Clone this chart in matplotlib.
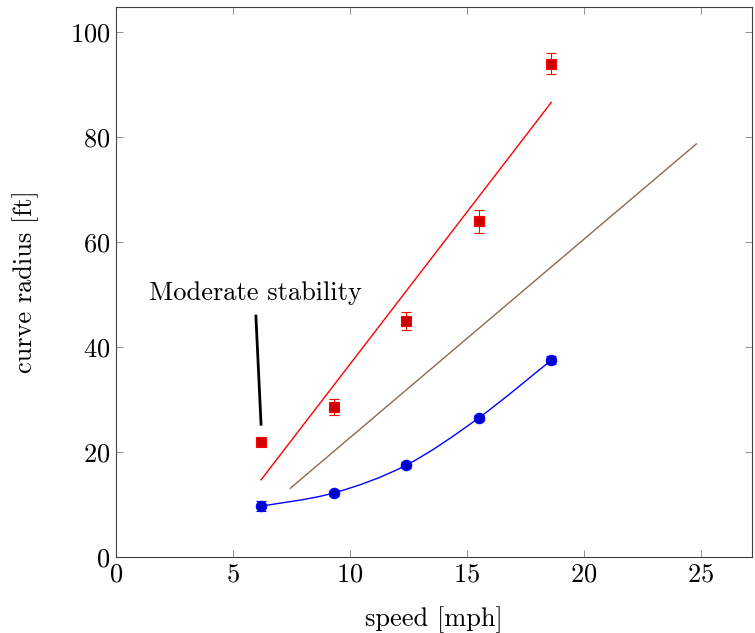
import numpy as np
import matplotlib
matplotlib.use("Agg")
import matplotlib.pyplot as plt
from matplotlib.path import Path
from matplotlib.patches import PathPatch

# ==============================================
# Data
# ==============================================

speed = [6.2, 9.3, 12.4, 15.5, 18.6]

# measured radius, moderate stability (red squares)
radius_moderate = [21.9, 28.6, 45.0, 64.0, 94.0]
err_moderate = [0.8, 1.5, 1.7, 2.2, 2.0]

# measured radius, high stability (blue circles)
radius_high = [9.7, 12.2, 17.5, 26.5, 37.5]
err_high = [1.0, 0.6, 0.6, 0.6, 0.8]

# straight reference lines
red_line_x = [6.2, 18.6]
red_line_y = [14.7, 86.6]
brown_line_x = [7.45, 24.8]
brown_line_y = [13.1, 78.7]

annot_text = "Moderate stability"
annot_text_pos = (5.94, 50.3)
annot_line_x = [5.98, 6.2]
annot_line_y = [45.9, 25.3]

# ==============================================
# Style
# ==============================================

plt.rcParams['font.family'] = 'serif'
plt.rcParams['font.serif'] = ['cmr10', 'DejaVu Serif']
plt.rcParams['mathtext.fontset'] = 'cm'
plt.rcParams['axes.formatter.use_mathtext'] = True
FS = 19


def smooth_path(xs, ys, tension=0.5):
    """Bezier path through the points, like pgfplots 'smooth'"""
    pts = np.column_stack([xs, ys]).astype(float)
    verts = [pts[0]]
    codes = [Path.MOVETO]
    n = len(pts)
    for i in range(n - 1):
        p0 = pts[i - 1] if i > 0 else pts[i]
        p1 = pts[i]
        p2 = pts[i + 1]
        p3 = pts[i + 2] if i + 2 < n else pts[i + 1]
        c1 = p1 + (p2 - p0) * tension / 3.0
        c2 = p2 - (p3 - p1) * tension / 3.0
        verts += [c1, c2, p2]
        codes += [Path.CURVE4] * 3
    return Path(verts, codes)


fig = plt.figure(figsize=(7.55, 6.33), dpi=100)
ax = fig.add_axes([0.1536, 0.120, 0.843, 0.869])

red = '#ff0000'
mark_red = '#cc0000'
blue = '#0000ff'
mark_blue = '#0000cc'
brown = '#8c6a48'

ax.plot(red_line_x, red_line_y, color=red, lw=1.0)
ax.plot(brown_line_x, brown_line_y, color=brown, lw=1.0)

ax.add_patch(PathPatch(smooth_path(speed, radius_high), fill=False,
                       edgecolor=blue, lw=1.0))

ax.errorbar(speed, radius_moderate, yerr=err_moderate, fmt='s',
            color=red, mfc=mark_red, mec=red, ms=7, mew=0.8, elinewidth=0.8,
            capsize=3.5, capthick=0.8, zorder=3)
ax.errorbar(speed, radius_high, yerr=err_high, fmt='o',
            color=blue, mfc=mark_blue, mec=blue, ms=7.5, mew=0.8, elinewidth=0.8,
            capsize=3.5, capthick=0.8, zorder=3)

ax.plot(annot_line_x, annot_line_y, color='black', lw=2.0)
ax.text(annot_text_pos[0], annot_text_pos[1], annot_text,
        ha='center', va='center', fontsize=FS)

ax.set_xlim(0, 27.2)
ax.set_ylim(0, 104.8)
ax.set_xticks([0, 5, 10, 15, 20, 25])
ax.set_yticks([0, 20, 40, 60, 80, 100])
ax.tick_params(direction='in', top=True, right=True, length=5,
               width=0.6, color='#808080', labelsize=FS, pad=4)
for s in ax.spines.values():
    s.set_linewidth(0.8)
    s.set_color('#404040')

ax.set_xlabel('speed [mph]', fontsize=FS, labelpad=14)
ax.set_ylabel('curve radius [ft]', fontsize=FS, labelpad=22)

fig.savefig('out.png', dpi=100)
